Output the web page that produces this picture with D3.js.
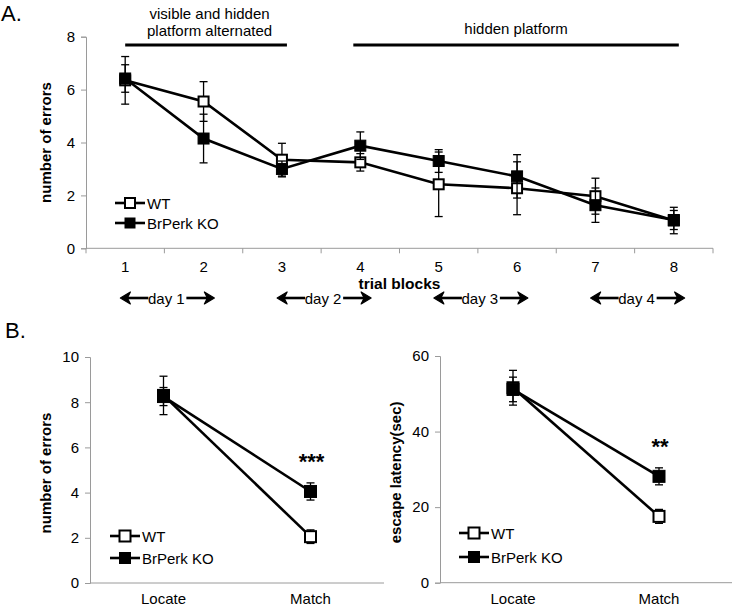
<!DOCTYPE html>
<html><head><meta charset="utf-8">
<script src="https://cdn.jsdelivr.net/npm/d3@7"></script>
<style>
body{margin:0;background:#fff;}
svg text{font-family:"Liberation Sans",Arial,sans-serif;fill:#000;}
</style></head>
<body><svg id="c" width="732" height="607"></svg>
<script>
// ---- Data ----
const blocks = ["1","2","3","4","5","6","7","8"];
const wtErrorsA = [6.35, 5.55, 3.35, 3.25, 2.42, 2.27, 1.97, 1.05];
const wtSeA     = [0.90, 0.75, 0.62, 0.33, 1.22, 1.00, 0.68, 0.50];
const koErrorsA = [6.42, 4.15, 3.00, 3.88, 3.30, 2.72, 1.63, 1.07];
const koSeA     = [0.52, 0.92, 0.30, 0.52, 0.43, 0.82, 0.65, 0.36];
const ticksA = [0, 2, 4, 6, 8];
const days = ["day 1", "day 2", "day 3", "day 4"];
const dayBlocks = [["1","2"],["3","4"],["5","6"],["7","8"]];
const phases = [
  {label:["visible and hidden","platform alternated"], from:"1", to:"3"},
  {label:["hidden platform"], from:"4", to:"8"}
];

const tasks = ["Locate", "Match"];
const wtErrorsB = [8.30, 2.05];
const wtSeB     = [0.85, 0.30];
const koErrorsB = [8.25, 4.05];
const koSeB     = [0.40, 0.38];
const ticksB1 = [0, 2, 4, 6, 8, 10];

const wtLatency = [51.6, 17.55];
const wtLatSe   = [4.6, 1.85];
const koLatency = [51.15, 28.15];
const koLatSe   = [3.25, 2.25];
const ticksB2 = [0, 20, 40, 60];

const seriesNames = ["WT", "BrPerk KO"];
const sigB1 = "***", sigB2 = "**";

// ---- Drawing ----
const svg = d3.select("#c");
const AXIS = "#9a9a9a";

function drawSeries(g, x, y, vals, errs, filled, ms, cats) {
  const cx = c => x(c) + x.bandwidth()/2;
  const line = d3.line().x((d,i)=>cx(cats[i])).y(d=>y(d));
  g.append("path").datum(vals).attr("d", line)
    .attr("fill","none").attr("stroke","#000").attr("stroke-width",2.6);
  const eb = g.append("g");
  vals.forEach((v,i)=>{
    const X = cx(cats[i]);
    const y1 = y(v+errs[i]), y0 = y(v-errs[i]);
    eb.append("line").attr("x1",X).attr("x2",X).attr("y1",y1).attr("y2",y0)
      .attr("stroke","#000").attr("stroke-width",1.3);
    [y1,y0].forEach(yy=>eb.append("line").attr("x1",X-4).attr("x2",X+4)
      .attr("y1",yy).attr("y2",yy).attr("stroke","#000").attr("stroke-width",1.3));
  });
  g.selectAll(null).data(vals).enter().append("rect")
    .attr("x",(d,i)=>cx(cats[i])-ms/2).attr("y",d=>y(d)-ms/2)
    .attr("width",ms).attr("height",ms)
    .attr("fill", filled ? "#000" : "#fff")
    .attr("stroke","#000").attr("stroke-width", filled ? 1 : 2);
}

function legend(g, x0, yWT, yKO, ms) {
  [[yWT,false,seriesNames[0]],[yKO,true,seriesNames[1]]].forEach(([yy,f,t])=>{
    g.append("line").attr("x1",x0).attr("x2",x0+30).attr("y1",yy).attr("y2",yy)
      .attr("stroke","#000").attr("stroke-width",2.6);
    g.append("rect").attr("x",x0+15-ms/2).attr("y",yy-ms/2).attr("width",ms).attr("height",ms)
      .attr("fill",f?"#000":"#fff").attr("stroke","#000").attr("stroke-width",f?1:2);
    g.append("text").attr("x",x0+32).attr("y",yy+5.5).attr("font-size",15).text(t);
  });
}

function yAxis(g, y, x0, ticks) {
  const ax = g.append("g").attr("transform",`translate(${x0},0)`)
    .call(d3.axisLeft(y).tickValues(ticks).tickSize(5).tickPadding(6).tickFormat(d3.format("d")));
  ax.select(".domain").attr("stroke",AXIS);
  ax.selectAll(".tick line").attr("stroke",AXIS);
  ax.selectAll(".tick text").attr("font-size",15).attr("font-family","Liberation Sans, Arial, sans-serif").attr("fill","#000");
  return ax;
}

// ===== Panel A =====
const xA = d3.scaleBand().domain(blocks).range([86, 713]);
const yA = d3.scaleLinear().domain([0, 8]).range([248.3, 36.7]);
const gA = svg.append("g");
svg.append("text").attr("x",1).attr("y",21).attr("font-size",22).text("A.");

yAxis(gA, yA, 86, ticksA);
// x axis with ticks at band boundaries
const gxA = gA.append("g").attr("transform","translate(0,248.3)");
gxA.append("line").attr("x1",86).attr("x2",713).attr("stroke",AXIS);
const edges = blocks.map(b=>xA(b)).concat([xA.range()[1]]);
gxA.selectAll(null).data(edges).enter().append("line")
  .attr("x1",d=>d).attr("x2",d=>d).attr("y1",0).attr("y2",5).attr("stroke",AXIS);
gxA.selectAll(null).data(blocks).enter().append("text")
  .attr("x",d=>xA(d)+xA.bandwidth()/2).attr("y",24).attr("text-anchor","middle")
  .attr("font-size",15).text(d=>d);
gA.append("text").attr("x",(86+713)/2).attr("y",289).attr("text-anchor","middle")
  .attr("font-size",15.5).attr("font-weight","bold").text("trial blocks");
gA.append("text").attr("transform",`translate(51,${(36.7+248.3)/2}) rotate(-90)`)
  .attr("text-anchor","middle").attr("font-size",15).attr("font-weight","bold").text("number of errors");

// phase bars
phases.forEach(p=>{
  const x1 = xA(p.from)+xA.bandwidth()/2, x2 = xA(p.to)+xA.bandwidth()/2;
  const ax1 = p.from==="4" ? xA(p.from)+xA.bandwidth()/2-7 : x1;
  gA.append("line").attr("x1",ax1).attr("x2",x2+5).attr("y1",45).attr("y2",45)
    .attr("stroke","#000").attr("stroke-width",3);
  const mid = p.label.length===2 ? (x1+x2)/2+6 : (ax1+x2+5)/2 ;
  p.label.forEach((t,i)=>{
    gA.append("text").attr("x",mid).attr("y",(p.label.length===2?19:34)+i*17)
      .attr("text-anchor","middle").attr("font-size",15).text(t);
  });
});

// day arrows
function arrow(g, xFrom, xTo, yy) {
  const dir = Math.sign(xTo-xFrom);
  g.append("line").attr("x1",xFrom).attr("x2",xTo-dir*6).attr("y1",yy).attr("y2",yy)
    .attr("stroke","#000").attr("stroke-width",2.6);
  g.append("path").attr("d",`M${xTo},${yy} L${xTo-dir*10},${yy-6} L${xTo-dir*7},${yy} L${xTo-dir*10},${yy+6} Z`)
    .attr("fill","#000").attr("stroke","#000").attr("stroke-width",1.2).attr("stroke-linejoin","round");
}
days.forEach((d,i)=>{
  const c = (xA(dayBlocks[i][0]) + xA(dayBlocks[i][1]) + xA.bandwidth())/2 + 2;
  gA.append("text").attr("x",c).attr("y",304).attr("text-anchor","middle").attr("font-size",15).text(d);
  arrow(gA, c-18, c-46, 298);
  arrow(gA, c+20, c+48, 298);
});

drawSeries(gA, xA, yA, wtErrorsA, wtSeA, false, 10, blocks);
drawSeries(gA, xA, yA, koErrorsA, koSeA, true, 11, blocks);
legend(gA, 115, 203, 223, 10);

// ===== Panel B =====
svg.append("text").attr("x",5).attr("y",338).attr("font-size",22).text("B.");

function panelB(x0, x1, yTop, yBot, dom, ticks, wt, wtse, ko, kose, title, titleX, sig, legX, legY1, legY2) {
  const g = svg.append("g");
  const x = d3.scaleBand().domain(tasks).range([x0, x1]);
  const y = d3.scaleLinear().domain(dom).range([yBot, yTop]);
  yAxis(g, y, x0, ticks);
  g.append("line").attr("x1",x0).attr("x2",x1).attr("y1",yBot).attr("y2",yBot).attr("stroke",AXIS);
  g.selectAll(null).data(tasks).enter().append("text")
    .attr("x",d=>x(d)+x.bandwidth()/2).attr("y",604).attr("text-anchor","middle")
    .attr("font-size",15).text(d=>d);
  g.append("text").attr("transform",`translate(${titleX},${(yTop+yBot)/2+3}) rotate(-90)`)
    .attr("text-anchor","middle").attr("font-size",15).attr("font-weight","bold").text(title);
  drawSeries(g, x, y, wt, wtse, false, 11, tasks);
  drawSeries(g, x, y, ko, kose, true, 12, tasks);
  const mx = x("Match")+x.bandwidth()/2;
  g.append("text").attr("x",mx+1).attr("y",y(ko[1]+kose[1])-14).attr("text-anchor","middle")
    .attr("font-size",22).attr("font-weight","bold").text(sig);
  legend(g, legX, legY1, legY2, 11);
}

panelB(90, 384, 357, 583, [0,10], ticksB1, wtErrorsB, wtSeB, koErrorsB, koSeB,
  "number of errors", 51, sigB1, 110, 536, 558);
panelB(440, 732, 356, 582.7, [0,60], ticksB2, wtLatency, wtLatSe, koLatency, koLatSe,
  "escape latency(sec)", 401, sigB2, 459, 533, 557);
</script></body></html>
